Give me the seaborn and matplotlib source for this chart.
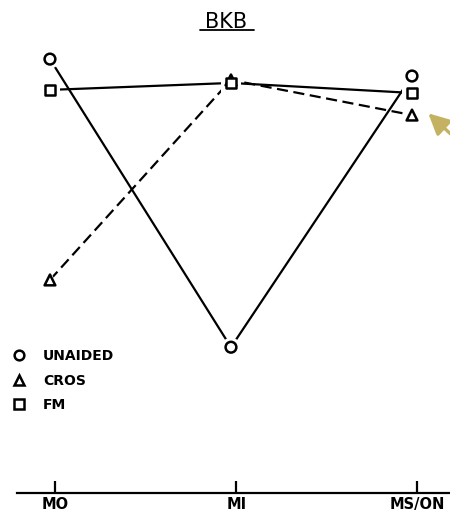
import seaborn as sns
import matplotlib.pyplot as plt
import pandas as pd
from matplotlib.lines import Line2D

# data (arbitrary score scale, 0 = axis line)
positions = ['MO', 'MI', 'MS/ON']
unaided = [100.0, 33.6, 96.1]
cros = [49.1, 95.2, 87.1]
fm = [92.9, 94.5, 92.2]
conditions = ['UNAIDED', 'CROS', 'FM']

df = pd.DataFrame({
    'pos': list(range(3)) * 3,
    'score': unaided + cros + fm,
    'cond': [c for c in conditions for _ in range(3)],
})

sns.set_style('white')
plt.rcParams['font.family'] = ['DejaVu Sans']
plt.rcParams['text.color'] = 'black'
plt.rcParams['xtick.color'] = 'black'

fig = plt.figure(figsize=(4.5, 5.18), dpi=100)
ax = fig.add_axes([0.0, 25 / 518, 1.0, 453 / 518])

# lines
sns.lineplot(data=df, x='pos', y='score', style='cond',
             dashes={'UNAIDED': '', 'CROS': (5, 2.5), 'FM': ''},
             color='black', linewidth=1.6, legend=False, ax=ax)

mk = {'UNAIDED': 'o', 'CROS': '^', 'FM': 's'}
# white halo so lines stop short of the markers
sns.scatterplot(data=df, x='pos', y='score', style='cond', markers=mk,
                s=190, color='white', edgecolor='none', legend=False,
                ax=ax, zorder=3)
sns.scatterplot(data=df, x='pos', y='score', style='cond', markers=mk,
                s=60, facecolor='white', edgecolor='black', linewidth=1.8,
                legend=False, ax=ax, zorder=4)

ax.set_xlim(-0.276, 2.21)
ax.set_ylim(0, 104.4)
for s in ['top', 'right', 'left']:
    ax.spines[s].set_visible(False)
ax.spines['bottom'].set_bounds(-0.18, 2.21)
ax.spines['bottom'].set_linewidth(1.6)
ax.spines['bottom'].set_color('black')
ax.set_yticks([])
ax.set_xticks([0.03, 1.03, 2.03])
ax.set_xticklabels(positions, fontsize=10.5, fontweight='bold')
ax.tick_params(axis='x', direction='in', length=9, width=1.6,
               pad=3, colors='black', bottom=True)
ax.set_xlabel('')
ax.set_ylabel('')

# legend with markers only
handles = [Line2D([], [], linestyle='none', marker=mk[c], markersize=7,
                  markerfacecolor='white', markeredgecolor='black',
                  markeredgewidth=1.8) for c in conditions]
leg = ax.legend(handles, conditions, loc='upper left',
                bbox_to_anchor=(0.0, 0.345), frameon=False,
                handlelength=1.0, handletextpad=1.2, labelspacing=0.75,
                prop={'size': 10, 'weight': 'bold'})

# underlined title
fig.text(0.502, 0.958, 'BKB', ha='center', va='center', fontsize=15)
fig.add_artist(Line2D([200 / 450, 254 / 450], [1 - 30 / 518, 1 - 30 / 518],
                      color='black', linewidth=1.3,
                      transform=fig.transFigure))

# highlight arrow
ax.annotate('', xy=(2.09, 87.5), xytext=(2.22, 82.5),
            arrowprops=dict(arrowstyle='-|>,head_length=0.7,head_width=0.35',
                            mutation_scale=18, shrinkA=0, shrinkB=0,
                            color='#C4B262', lw=2.4))

fig.savefig('out.png', dpi=100)
